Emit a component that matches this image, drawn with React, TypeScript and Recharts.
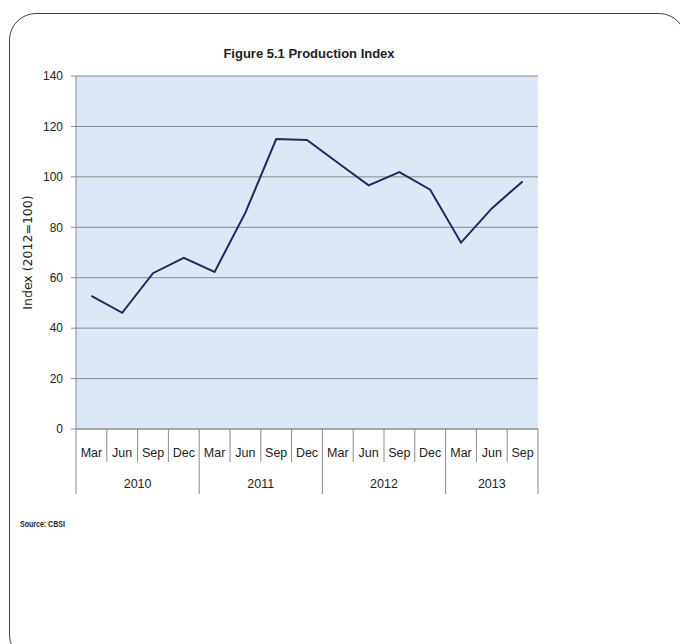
import React from 'react';
import { LineChart, Line, XAxis, YAxis, CartesianGrid } from 'recharts';

// quarterly categories, grouped by year on a second row
const months = ['Mar', 'Jun', 'Sep', 'Dec', 'Mar', 'Jun', 'Sep', 'Dec', 'Mar', 'Jun', 'Sep', 'Dec', 'Mar', 'Jun', 'Sep'];
const years = ['2010', '2010', '2010', '2010', '2011', '2011', '2011', '2011', '2012', '2012', '2012', '2012', '2013', '2013', '2013'];
const indexValues = [52.8, 46.1, 61.8, 67.9, 62.3, 85.8, 115.0, 114.6, 105.6, 96.6, 101.9, 94.9, 73.9, 87.5, 98.2];
const yTicks = [0, 20, 40, 60, 80, 100, 120, 140];

const CHART_W = 680;
const CHART_H = 644;
const MARGIN = { top: 76, right: 142, left: 16, bottom: 145 };
const Y_AXIS_W = 60;
const X_AXIS_H = 70;
const BAND = (CHART_W - MARGIN.left - MARGIN.right - Y_AXIS_W) / months.length;

const AXIS = '#8a8a8a';
const TEXT = '#222';
const TICK_FONT = "'Liberation Sans', Arial, sans-serif";

const data = months.map((m, i) => ({ month: m, year: years[i], value: indexValues[i] }));

const CategoryTick = (props: any) => {
  const { x, y, payload } = props;
  const i = payload.index ?? props.index;
  const half = BAND / 2;
  const year = years[i];
  const startsYear = i === 0 || years[i - 1] !== year;
  const yearCount = years.filter((v) => v === year).length;
  const isLast = i === months.length - 1;
  return (
    <g>
      <line x1={x - half} x2={x - half} y1={y} y2={y + (startsYear ? 65 : 33)} stroke={AXIS} />
      {isLast && <line x1={x + half} x2={x + half} y1={y} y2={y + 65} stroke={AXIS} />}
      <text x={x} y={y + 27.5} textAnchor="middle" fontSize={12.5} fontFamily={TICK_FONT} fill={TEXT}>
        {payload.value}
      </text>
      {startsYear && (
        <text x={x - half + yearCount * half} y={y + 58.5} textAnchor="middle" fontSize={12.5} fontFamily={TICK_FONT} fill={TEXT}>
          {year}
        </text>
      )}
    </g>
  );
};

export default function App() {
  return (
    <div style={{ position: 'absolute', left: 0, top: 0, width: CHART_W, height: CHART_H, overflow: 'hidden', background: '#fff' }}>
      <div
        style={{
          position: 'absolute', left: 9, top: 13, width: 677, height: 649,
          border: '1.5px solid #444', borderRadius: 27, boxSizing: 'border-box',
        }}
      />
      <div
        style={{
          position: 'absolute', left: 0, top: 46, width: 618, textAlign: 'center',
          fontFamily: TICK_FONT, fontWeight: 'bold', fontSize: 13, lineHeight: '16px', color: TEXT,
        }}
      >
        Figure 5.1 Production Index
      </div>
      <div
        style={{
          position: 'absolute', left: 20, top: 518, transform: 'scaleX(0.78)', transformOrigin: 'left center',
          fontFamily: TICK_FONT, fontWeight: 'bold', fontSize: 9, lineHeight: '12px', color: TEXT, whiteSpace: 'nowrap',
        }}
      >
        Source: CBSI
      </div>
      <div style={{ position: 'absolute', left: 0, top: 0 }}>
        <LineChart width={CHART_W} height={CHART_H} data={data} margin={MARGIN}>
          <CartesianGrid vertical={false} stroke={AXIS} fill="#dce8f5" />
          <XAxis
            dataKey="month"
            padding={{ left: BAND / 2, right: BAND / 2 }}
            interval={0}
            height={X_AXIS_H}
            tickLine={false}
            tickSize={0}
            tickMargin={0}
            axisLine={{ stroke: AXIS }}
            tick={<CategoryTick />}
          />
          <YAxis
            domain={[0, 140]}
            ticks={yTicks}
            width={Y_AXIS_W}
            tickSize={5}
            tickMargin={8}
            axisLine={{ stroke: AXIS }}
            tickLine={{ stroke: AXIS }}
            tick={{ fontSize: 12, fontFamily: TICK_FONT, fill: TEXT }}
            label={{
              value: 'Index (2012=100)',
              angle: -90,
              position: 'insideLeft',
              offset: 12,
              style: { textAnchor: 'middle', fontSize: 12.5, fontFamily: "'DejaVu Sans', Verdana, sans-serif", fill: TEXT },
            }}
          />
          <Line
            type="linear"
            dataKey="value"
            stroke="#1f2b5c"
            strokeWidth={2}
            dot={false}
            isAnimationActive={false}
          />
        </LineChart>
      </div>
    </div>
  );
}
